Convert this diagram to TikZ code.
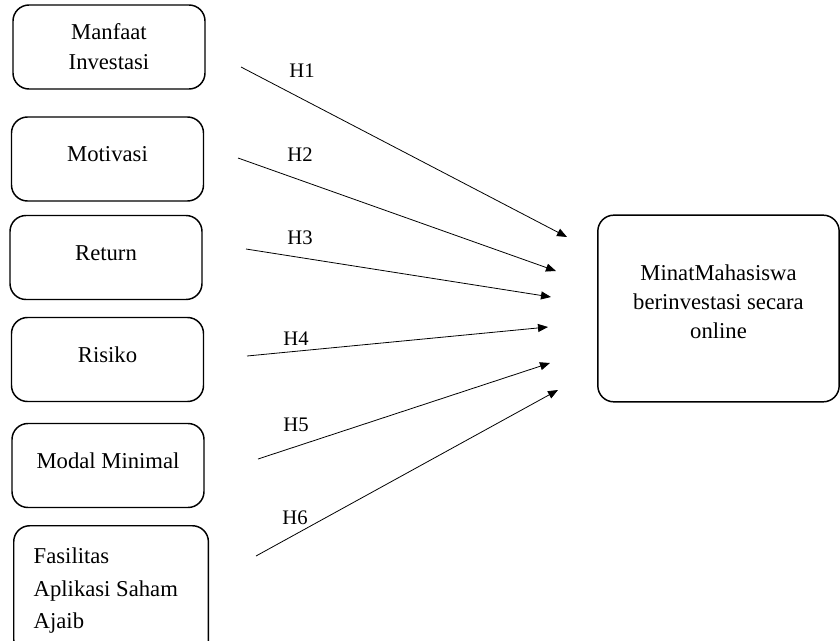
\documentclass[tikz,border=0pt]{standalone}
\usepackage{fontspec}
\setmainfont{Liberation Serif}
\usetikzlibrary{arrows.meta}
\tikzset{
  varbox/.style={draw, line width=1.1pt, rounded corners=12pt, minimum width=144pt, minimum height=63pt, inner sep=0pt, align=center, font=\fontsize{17}{22.5}\selectfont},
  hyp/.style={-{Triangle[length=7.5pt,width=6pt]}, line width=0.6pt},
  hlabel/.style={inner sep=0.75pt, font=\fontsize{15.5}{18}\selectfont}
}
\begin{document}
\begin{tikzpicture}[x=0.75pt,y=0.75pt,yscale=-1]
\useasboundingbox (0,0) rectangle (840,640);
\clip (0,0) rectangle (840,640);

% Variable boxes
\node [varbox] (manfaat) at (109,47) {Manfaat\\Investasi};
\node [varbox, text depth=7pt] (motivasi) at (107.5,159) {Motivasi};
\node [varbox, text depth=7pt] (return) at (106,257.5) {Return};
\node [varbox, text depth=7pt] (risiko) at (107.5,359.5) {Risiko};
\node [varbox, text depth=7pt] (modal) at (108,465.5) {Modal Minimal};
\node [varbox, anchor=north west, align=flush left, minimum width=146pt, text width=116pt, inner xsep=15pt, inner ysep=16.5pt, font=\fontsize{17}{24.5}\selectfont] (fasilitas) at (13,525) {Fasilitas\\Aplikasi Saham\\Ajaib};

\node [varbox, minimum width=181pt, minimum height=140pt, text depth=10pt, font=\fontsize{17}{21.75}\selectfont] (minat) at (718.5,308.5) {MinatMahasiswa\\berinvestasi secara\\online};

% Arrow ends
\coordinate (s1) at (241,67);   \coordinate (e1) at (567,237);
\coordinate (s2) at (238,158);  \coordinate (e2) at (556,271);
\coordinate (s3) at (246,249);  \coordinate (e3) at (551,297);
\coordinate (s4) at (247,356);  \coordinate (e4) at (548,327);
\coordinate (s5) at (258,459);  \coordinate (e5) at (550,363);
\coordinate (s6) at (256,556);  \coordinate (e6) at (558,390);

% Hypotheses
\draw [hyp] (s1) -- (e1);
\draw [hyp] (s2) -- (e2);
\draw [hyp] (s3) -- (e3);
\draw [hyp] (s4) -- (e4);
\draw [hyp] (s5) -- (e5);
\draw [hyp] (s6) -- (e6);

% Text Node
\node [hlabel] (h1) at (302,71) {H1};
\node [hlabel] (h2) at (300,155) {H2};
\node [hlabel] (h3) at (300,238) {H3};
\node [hlabel] (h4) at (296,339) {H4};
\node [hlabel] (h5) at (296,425) {H5};
\node [hlabel] (h6) at (295,518) {H6};

\end{tikzpicture}
\end{document}
